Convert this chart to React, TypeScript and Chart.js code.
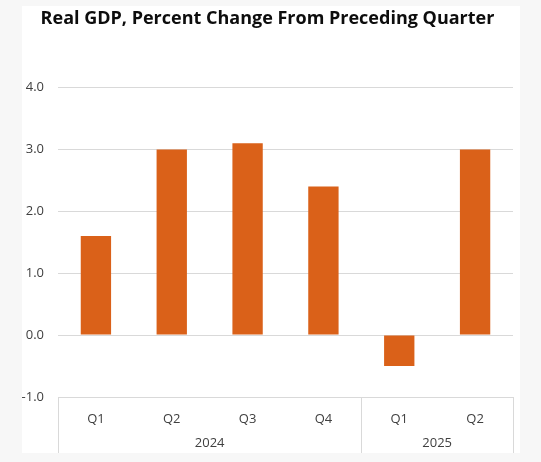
import { useRef, useEffect } from "react";
import Chart from "chart.js/auto";

// Data
const QUARTERS = ["Q1", "Q2", "Q3", "Q4", "Q1", "Q2"];
const GDP_CHANGE = [1.6, 3.0, 3.1, 2.4, -0.5, 3.0];
const YEARS = ["2024", "2025"];
const YEAR_SPANS = [4, 2]; // how many quarters each year covers

const BAR_COLOR = "#DA6119";
const GRID_COLOR = "#D9D9D9";
const TEXT_COLOR = "#404040";
const FONT = "'Open Sans', 'Noto Sans', sans-serif";

// Draws the second axis row (years) and the group dividers under the x axis
const yearGroups = {
  id: "yearGroups",
  afterDraw(chart: any) {
    const x = chart.scales.x;
    const ctx = chart.ctx;
    const n = QUARTERS.length;
    const w = (x.right - x.left) / n;
    const top = x.top;
    const bottom = chart.height;

    ctx.save();
    ctx.strokeStyle = GRID_COLOR;
    ctx.lineWidth = 1;
    let idx = 0;
    const edges = [0];
    YEAR_SPANS.forEach((s) => {
      idx += s;
      edges.push(idx);
    });
    edges.forEach((e) => {
      const px = Math.round(x.left + e * w) + 0.5;
      ctx.beginPath();
      ctx.moveTo(px, top);
      ctx.lineTo(px, bottom);
      ctx.stroke();
    });

    ctx.fillStyle = TEXT_COLOR;
    ctx.font = `13px ${FONT}`;
    ctx.textAlign = "center";
    ctx.textBaseline = "middle";
    YEARS.forEach((year, i) => {
      const mid = x.left + ((edges[i] + edges[i + 1]) / 2) * w;
      ctx.fillText(year, mid, top + 46);
    });
    ctx.restore();
  },
};

export default function App() {
  const chartRef = useRef<HTMLCanvasElement>(null);

  useEffect(() => {
    if (!chartRef.current) return;

    const chart = new Chart(chartRef.current, {
      type: "bar",
      data: {
        labels: QUARTERS,
        datasets: [
          {
            label: "Real GDP",
            data: GDP_CHANGE,
            backgroundColor: BAR_COLOR,
            borderWidth: 0,
            categoryPercentage: 1,
            barPercentage: 0.4,
          },
        ],
      },
      options: {
        animation: false,
        responsive: false,
        maintainAspectRatio: false,
        layout: { padding: { left: 0, right: 7, top: 0, bottom: 0 } },
        scales: {
          x: {
            offset: true,
            grid: { display: false, drawTicks: false },
            border: { display: false },
            ticks: {
              color: TEXT_COLOR,
              font: { family: FONT, size: 13 },
              padding: 14,
              maxRotation: 0,
            },
            afterFit: (scale: any) => {
              scale.height = 56;
            },
          },
          y: {
            min: -1,
            max: 4,
            grid: { color: GRID_COLOR, drawTicks: false },
            border: { display: false },
            ticks: {
              stepSize: 1,
              color: TEXT_COLOR,
              font: { family: FONT, size: 13 },
              padding: 14,
              callback: (v: any) => Number(v).toFixed(1),
            },
            afterFit: (scale: any) => {
              scale.width = 36;
            },
          },
        },
        plugins: {
          legend: { display: false },
          tooltip: { enabled: false },
          title: {
            display: true,
            text: "Real GDP, Percent Change From Preceding Quarter",
            color: "#0D0D0D",
            font: { family: FONT, size: 18, weight: "bold" },
            padding: { top: 2, bottom: 58 },
          },
        },
      },
      plugins: [yearGroups],
    });

    return () => chart.destroy();
  }, []);

  return (
    <div
      style={{
        position: "absolute",
        left: 0,
        top: 0,
        width: 541,
        height: 462,
        background: "#F7F7F7",
      }}
    >
      <div
        style={{
          position: "absolute",
          left: 22,
          top: 6,
          width: 498,
          height: 447,
          background: "#FFFFFF",
        }}
      >
        <canvas ref={chartRef} width={498} height={447} style={{ display: "block" }} />
      </div>
    </div>
  );
}
